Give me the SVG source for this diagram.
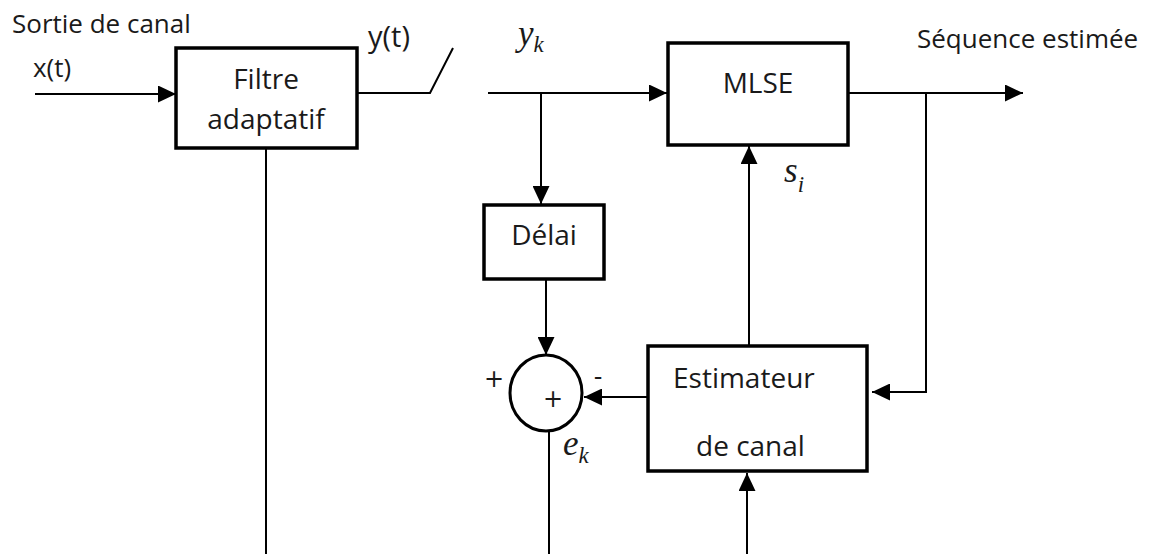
<svg xmlns="http://www.w3.org/2000/svg" width="1150" height="554" viewBox="0 0 1150 554">
<style>
.box{fill:#fff;stroke:#000;stroke-width:3.5}
.ln{fill:none;stroke:#000;stroke-width:2}
.t{font-family:"Open Sans","Noto Sans",sans-serif;font-size:28px;fill:#1a1a1a}
.lb{font-family:"Open Sans","Noto Sans",sans-serif;font-size:26px;fill:#1a1a1a}
.m{font-family:"Liberation Serif",serif;font-style:italic;font-size:35px;fill:#1a1a1a}
.sub{font-size:23px}
.sg{font-family:"DejaVu Sans",sans-serif;font-size:24px;fill:#1a1a1a}
</style>
<defs>
<marker id="arr" markerUnits="userSpaceOnUse" markerWidth="18" markerHeight="17" refX="18" refY="8.5" orient="auto">
<path d="M0,0 L18,8.5 L0,17 z" fill="#000"/>
</marker>
</defs>
<rect width="1150" height="554" fill="#fff"/>
<g id="connectors">
<line class="ln" x1="35" y1="94" x2="176" y2="94" marker-end="url(#arr)"/>
<polyline class="ln" points="357,93 430,93 453,48"/>
<line class="ln" x1="488" y1="93" x2="667" y2="93" marker-end="url(#arr)"/>
<line class="ln" x1="541" y1="93" x2="541" y2="204" marker-end="url(#arr)"/>
<line class="ln" x1="546" y1="279" x2="546" y2="355" marker-end="url(#arr)"/>
<line class="ln" x1="848" y1="93" x2="1023" y2="93" marker-end="url(#arr)"/>
<polyline class="ln" points="926,93 926,392 872,392" marker-end="url(#arr)"/>
<line class="ln" x1="648" y1="397" x2="584" y2="397" marker-end="url(#arr)"/>
<line class="ln" x1="749" y1="346" x2="749" y2="146" marker-end="url(#arr)"/>
<line class="ln" x1="747" y1="554" x2="747" y2="473" marker-end="url(#arr)"/>
<line class="ln" x1="549" y1="432" x2="549" y2="554"/>
<line class="ln" x1="266" y1="148" x2="266" y2="554"/>
</g>
<g id="filtre">
<rect class="box" x="176" y="48" width="181" height="100"/>
<text class="t" x="266" y="89" text-anchor="middle">Filtre</text>
<text class="t" x="266" y="129" text-anchor="middle">adaptatif</text>
</g>
<g id="mlse">
<rect class="box" x="668" y="43" width="180" height="102"/>
<text class="t" x="758" y="93" text-anchor="middle">MLSE</text>
</g>
<g id="delai">
<rect class="box" x="484" y="205" width="120" height="74"/>
<text class="t" x="544" y="245" text-anchor="middle">Délai</text>
</g>
<g id="sommateur">
<ellipse cx="546" cy="393" rx="36" ry="38" fill="#fff" stroke="#000" stroke-width="3"/>
<text class="sg" x="553" y="407" text-anchor="middle">+</text>
<text class="sg" x="494" y="387" text-anchor="middle">+</text>
<text class="sg" x="598" y="385" text-anchor="middle">-</text>
</g>
<g id="estimateur">
<rect class="box" x="648" y="346" width="219" height="125"/>
<text class="t" x="673" y="388">Estimateur</text>
<text class="t" x="696" y="456">de canal</text>
</g>
<g id="labels">
<text class="lb" x="12" y="33">Sortie de canal</text>
<text class="lb" x="33" y="77">x(t)</text>
<text class="lb" x="368" y="47" style="font-size:29px">y(t)</text>
<text class="lb" x="917" y="48">Séquence estimée</text>
<text class="m" x="518" y="45">y<tspan class="sub" dy="7">k</tspan></text>
<text class="m" x="784" y="182">s<tspan class="sub" dy="10">i</tspan></text>
<text class="m" x="563" y="455">e<tspan class="sub" dy="8">k</tspan></text>
</g>
</svg>
